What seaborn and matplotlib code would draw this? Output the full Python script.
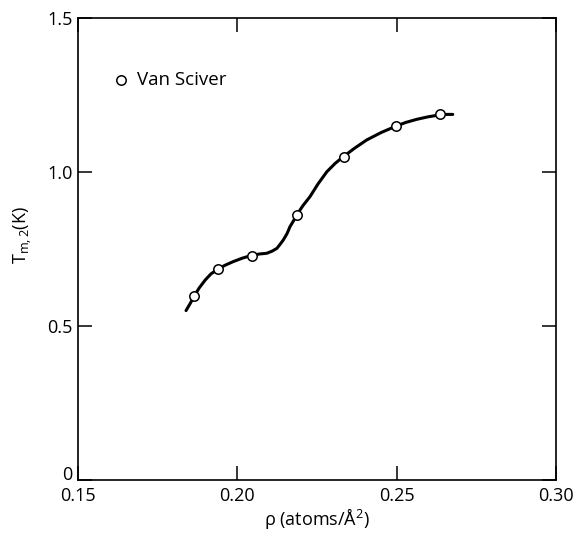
import matplotlib
matplotlib.use("Agg")
import matplotlib.pyplot as plt
import seaborn as sns
import pandas as pd

# Measured points (Van Sciver)
rho_pts = [0.1865, 0.1938, 0.2047, 0.2187, 0.2334, 0.2499, 0.2637]
tm_pts = [0.597, 0.686, 0.728, 0.861, 1.050, 1.149, 1.187]

# Smooth curve
rho_curve = [0.1839, 0.1852, 0.1864, 0.1880, 0.1899, 0.1917, 0.1938, 0.1961,
             0.1987, 0.2015, 0.2047, 0.2071, 0.2092, 0.2109, 0.2124, 0.2134,
             0.2144, 0.2156, 0.2165, 0.2176, 0.2186, 0.2206, 0.2228, 0.2253,
             0.2281, 0.2307, 0.2333, 0.2369, 0.2406, 0.2451, 0.2498, 0.2529,
             0.2563, 0.2598, 0.2638, 0.2655, 0.2676]
tm_curve = [0.550, 0.573, 0.596, 0.623, 0.649, 0.669, 0.684, 0.697,
            0.709, 0.720, 0.730, 0.734, 0.736, 0.743, 0.752, 0.765,
            0.779, 0.800, 0.822, 0.841, 0.860, 0.891, 0.920, 0.961,
            1.001, 1.028, 1.050, 1.078, 1.104, 1.128, 1.149, 1.161,
            1.171, 1.179, 1.186, 1.187, 1.187]

x_ticks = [0.15, 0.20, 0.25, 0.30]
x_labels = ["0.15", "0.20", "0.25", "0.30"]
y_ticks = [0, 0.5, 1.0, 1.5]
y_labels = ["0", "0.5", "1.0", "1.5"]

sns.set_style("ticks")
plt.rcParams["font.family"] = ["Open Sans", "DejaVu Sans"]
plt.rcParams["mathtext.fontset"] = "custom"
plt.rcParams["mathtext.rm"] = "Open Sans"
plt.rcParams["mathtext.it"] = "Open Sans:italic"
plt.rcParams["text.color"] = "black"
plt.rcParams["axes.labelcolor"] = "black"

fig = plt.figure(figsize=(5.81, 5.33), dpi=100)
ax = fig.add_axes([78/581, 53/533, 478/581, 462/533])

curve_df = pd.DataFrame({"rho": rho_curve, "tm": tm_curve})
pts_df = pd.DataFrame({"rho": rho_pts, "tm": tm_pts})

sns.lineplot(data=curve_df, x="rho", y="tm", sort=False, color="black",
             linewidth=2.2, ax=ax, zorder=2)
sns.scatterplot(data=pts_df, x="rho", y="tm", ax=ax, s=46, facecolor="white",
                edgecolor="black", linewidth=1.1, zorder=3, label="Van Sciver")

ax.set_xlim(0.15, 0.30)
ax.set_ylim(0, 1.5)
ax.set_xticks(x_ticks)
ax.set_xticklabels(x_labels)
ax.set_yticks(y_ticks)
ax.set_yticklabels(y_labels)
ax.tick_params(direction="in", length=10, width=1.1, labelsize=13,
               top=True, right=True, pad=4, colors="black")
ax.tick_params(axis="x", pad=5)
ax.get_yticklabels()[0].set_va("baseline")
for s in ax.spines.values():
    s.set_linewidth(1.2)
    s.set_color("black")

ax.set_xlabel("\u03c1 (atoms/Å$^2$)", fontsize=13, labelpad=1, color="black")
ax.set_ylabel(r"T$_{\mathrm{m,2}}$(K)", fontsize=13, color="black")
ax.yaxis.set_label_coords(-0.092, 0.53)

leg = ax.legend(loc="center left", bbox_to_anchor=(0.075, 0.866), frameon=False,
                fontsize=13.5, handlelength=0.8, handletextpad=0.45,
                borderaxespad=0, borderpad=0, labelcolor="black")

fig.savefig("out.png", dpi=100)
